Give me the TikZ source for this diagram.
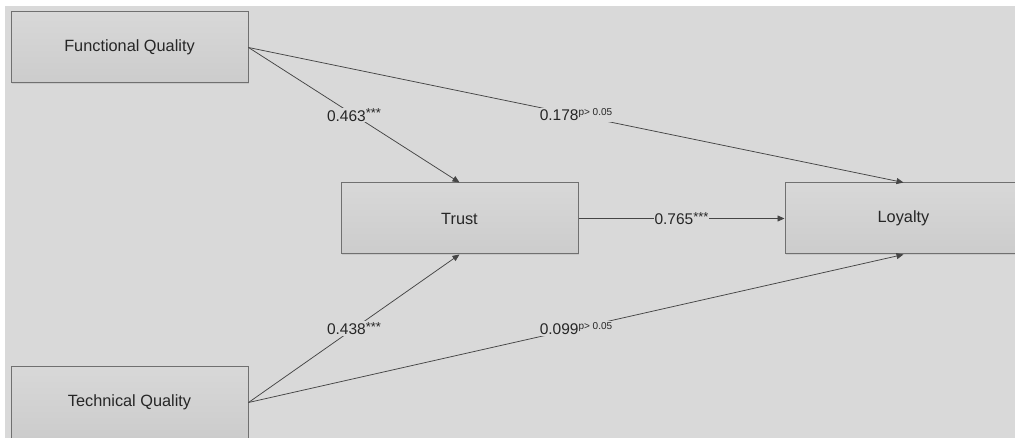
\documentclass[tikz,border=0pt]{standalone}
\usepackage{fontspec}
\setmainfont{Liberation Sans}
\usetikzlibrary{arrows.meta,shadows}
\definecolor{bgc}{HTML}{D9D9D9}
\definecolor{boxtop}{HTML}{D8D8D8}
\definecolor{boxbot}{HTML}{CCCCCC}
\definecolor{edgec}{HTML}{707070}
\definecolor{linec}{HTML}{454545}
\newcommand{\supx}[1]{\raisebox{5pt}{\fontsize{10}{10}\selectfont #1}}
\newcommand{\stars}{\raisebox{3.5pt}{\fontsize{13}{10}\selectfont ***}}
\tikzset{
  varbox/.style={draw=edgec, line width=1pt, top color=boxtop, bottom color=boxbot,
    minimum width=237pt, minimum height=71pt, inner sep=0pt,
    font=\fontsize{16.3}{19}\selectfont, text=black!85,
    drop shadow={opacity=0.2, shadow xshift=1pt, shadow yshift=-1pt}},
  path/.style={draw=linec, line width=0.75pt, -{Triangle[length=7pt,width=6pt]}},
  coef/.style={fill=bgc, inner sep=1pt, font=\fontsize{15.5}{18}\selectfont, text=black!85, pos=0.5}
}
\begin{document}
\begin{tikzpicture}[x=1pt,y=-1pt]
\useasboundingbox (0,0) rectangle (1015,438);
\fill[white] (0,0) rectangle (1015,438);
\fill[bgc] (5,6) rectangle (1015,438);
\node[varbox] (fq) at (129.5,47.5) {Functional Quality};
\node[varbox] (tq) at (129.5,402.5) {Technical Quality};
\node[varbox] (tr) at (459.5,218.5) {Trust};
\node[varbox] (lo) at (903.5,218.5) {Loyalty};
\draw[path] (fq.east) -- node[coef] {0.463\stars} (tr.north);
\draw[path] (fq.east) -- node[coef] {0.178\supx{p> 0.05}} (lo.north);
\draw[path] (tr.east) -- node[coef] {0.765\stars} (lo.west);
\draw[path] (tq.east) -- node[coef] {0.438\stars} (tr.south);
\draw[path] (tq.east) -- node[coef] {0.099\supx{p> 0.05}} (lo.south);
\end{tikzpicture}
\end{document}
